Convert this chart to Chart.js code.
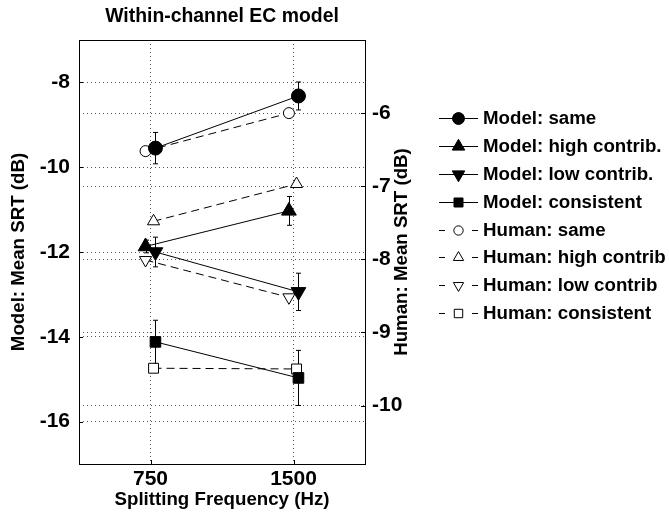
<!DOCTYPE html>
<html lang="en">
<head>
<meta charset="UTF-8">
<title>Within-channel EC model</title>
<script src="https://cdn.jsdelivr.net/npm/chart.js"></script>
<style>
  html, body { margin: 0; padding: 0; background: #fff; }
  #wrap { width: 669px; height: 519px; }
</style>
</head>
<body>
<div id="wrap"><canvas id="srtChart"></canvas></div>
<script>
// splitting frequencies on the x axis
const freqs = [750, 1500];

// plotted x positions (points are nudged sideways a little so they don't overlap)
const xModelSame = [776, 1526];
const xModelHigh = [724, 1476];
const xModelLow = [776, 1526];
const xModelConsistent = [776, 1526];
const xHumanSame = [724, 1476];
const xHumanHigh = [766, 1516];
const xHumanLow = [724, 1476];
const xHumanConsistent = [766, 1516];

// model SRTs (left axis) with error bar half-lengths
const modelSame = [-9.55, -8.32];
const modelSameErr = [0.37, 0.33];
const modelHigh = [-11.87, -11.03];
const modelHighErr = [0.15, 0.34];
const modelLow = [-12.0, -12.94];
const modelLowErr = [0.35, 0.44];
const modelConsistent = [-14.12, -14.97];
const modelConsistentErr = [0.51, 0.65];

// human SRTs (right axis)
const humanSame = [-6.52, -6.0];
const humanHigh = [-7.48, -6.97];
const humanLow = [-8.01, -8.52];
const humanConsistent = [-9.49, -9.5];

const leftTicks = [-8, -10, -12, -14, -16];
const rightTicks = [-6, -7, -8, -9, -10];

const FONT = 'Liberation Sans, Arial, Helvetica, sans-serif';
const tickFont = {family: FONT, size: 21, weight: 'bold'};
const labelFont = {family: FONT, size: 18.7, weight: 'bold'};

function pts(xs, ys) {
    return ys.map((y, i) => ({x: xs[i], y: y}));
}

function modelSet(label, xs, ys, errs, style, radius, rot) {
    return {
        label: label, data: pts(xs, ys), errors: errs, yAxisID: 'yModel',
        showLine: true, borderColor: '#000', borderWidth: 1,
        pointStyle: style, pointRadius: radius, pointRotation: rot || 0,
        pointBackgroundColor: '#000', pointBorderColor: '#000', pointBorderWidth: 1
    };
}

function humanSet(label, xs, ys, style, radius, rot) {
    return {
        label: label, data: pts(xs, ys), yAxisID: 'yHuman',
        showLine: true, borderColor: '#000', borderWidth: 1, borderDash: [8, 5],
        pointStyle: style, pointRadius: radius, pointRotation: rot || 0,
        pointBackgroundColor: '#fff', pointBorderColor: '#000', pointBorderWidth: 1
    };
}

// error bars, inward ticks, frame, right-hand title and legend
const extras = {
    id: 'extras',
    beforeDatasetsDraw(chart) {
        const ctx = chart.ctx;
        const xs = chart.scales.x, ys = chart.scales.yModel;
        ctx.save();
        ctx.strokeStyle = '#000';
        ctx.lineWidth = 1;
        chart.data.datasets.forEach(ds => {
            if (!ds.errors) return;
            ds.data.forEach((p, i) => {
                const px = Math.round(xs.getPixelForValue(p.x)) + 0.5;
                const top = ys.getPixelForValue(p.y + ds.errors[i]);
                const bot = ys.getPixelForValue(p.y - ds.errors[i]);
                ctx.beginPath();
                ctx.moveTo(px, top); ctx.lineTo(px, bot);
                ctx.moveTo(px - 2.5, top); ctx.lineTo(px + 2.5, top);
                ctx.moveTo(px - 2.5, bot); ctx.lineTo(px + 2.5, bot);
                ctx.stroke();
            });
        });
        ctx.restore();
    },
    afterDraw(chart) {
        const ctx = chart.ctx;
        const a = chart.chartArea;
        ctx.save();
        ctx.strokeStyle = '#000';
        ctx.lineWidth = 1;
        ctx.strokeRect(Math.round(a.left) + 0.5, Math.round(a.top) + 0.5,
            Math.round(a.right - a.left), Math.round(a.bottom - a.top));

        // small inward tick marks like the original figure
        ctx.beginPath();
        leftTicks.forEach(v => {
            const y = Math.round(chart.scales.yModel.getPixelForValue(v)) + 0.5;
            ctx.moveTo(a.left, y); ctx.lineTo(a.left + 4, y);
        });
        rightTicks.forEach(v => {
            const y = Math.round(chart.scales.yHuman.getPixelForValue(v)) + 0.5;
            ctx.moveTo(a.right, y); ctx.lineTo(a.right - 4, y);
        });
        freqs.forEach(v => {
            const x = Math.round(chart.scales.x.getPixelForValue(v)) + 0.5;
            ctx.moveTo(x, a.bottom); ctx.lineTo(x, a.bottom - 4);
        });
        ctx.stroke();

        // right axis title, reading bottom to top
        ctx.fillStyle = '#000';
        ctx.font = 'bold 18.7px ' + FONT;
        ctx.textAlign = 'center';
        ctx.textBaseline = 'middle';
        ctx.save();
        ctx.translate(402, (a.top + a.bottom) / 2);
        ctx.rotate(-Math.PI / 2);
        ctx.fillText('Human: Mean SRT (dB)', 0, 0);
        ctx.restore();

        // chart title
        ctx.font = 'bold 19.4px ' + FONT;
        ctx.fillText('Within-channel EC model', (a.left + a.right) / 2, 17);

        // legend
        const x0 = 439, x1 = 478, xm = 458.5, tx = 483;
        const rowY = [118, 146, 174, 202, 230, 257, 285, 313];
        const order = ['Model: same', 'Model: high contrib.', 'Model: low contrib.', 'Model: consistent',
            'Human: same', 'Human: high contrib', 'Human: low contrib', 'Human: consistent'];
        ctx.textAlign = 'left';
        ctx.font = 'bold 18.7px ' + FONT;
        order.forEach((name, i) => {
            const ds = chart.data.datasets.find(d => d.label === name);
            const y = rowY[i] + 0.5;
            ctx.beginPath();
            if (ds.borderDash) {
                ctx.moveTo(x0, y); ctx.lineTo(x0 + 6, y);
                ctx.moveTo(x1 - 6, y); ctx.lineTo(x1, y);
            } else {
                ctx.moveTo(x0, y); ctx.lineTo(x1, y);
            }
            ctx.stroke();
            const r = ds.pointRadius * 0.85;
            ctx.beginPath();
            if (ds.pointStyle === 'circle') {
                ctx.arc(xm, y, r, 0, Math.PI * 2);
            } else if (ds.pointStyle === 'rect') {
                const h = r * Math.SQRT1_2;
                ctx.rect(xm - h, y - h, 2 * h, 2 * h);
            } else {
                const s = ds.pointRotation ? -1 : 1;
                ctx.moveTo(xm, y - s * r);
                ctx.lineTo(xm + r * 0.866, y + s * r * 0.5);
                ctx.lineTo(xm - r * 0.866, y + s * r * 0.5);
                ctx.closePath();
            }
            ctx.fillStyle = ds.pointBackgroundColor;
            ctx.fill();
            ctx.stroke();
            ctx.fillStyle = '#000';
            ctx.fillText(name, tx, rowY[i] + 1);
        });
        ctx.restore();
    }
};

const gridStyle = {color: '#555', drawTicks: false, lineWidth: 1};
const plainLabel = v => String(v);

new Chart(document.getElementById('srtChart'), {
    type: 'scatter',
    data: {
        datasets: [
            modelSet('Model: same', xModelSame, modelSame, modelSameErr, 'circle', 7),
            modelSet('Model: high contrib.', xModelHigh, modelHigh, modelHighErr, 'triangle', 8.5),
            modelSet('Model: low contrib.', xModelLow, modelLow, modelLowErr, 'triangle', 8.5, 180),
            modelSet('Model: consistent', xModelConsistent, modelConsistent, modelConsistentErr, 'rect', 7.5),
            humanSet('Human: same', xHumanSame, humanSame, 'circle', 5.5),
            humanSet('Human: high contrib', xHumanHigh, humanHigh, 'triangle', 7),
            humanSet('Human: low contrib', xHumanLow, humanLow, 'triangle', 7, 180),
            humanSet('Human: consistent', xHumanConsistent, humanConsistent, 'rect', 7)
        ]
    },
    plugins: [extras],
    options: {
        responsive: true,
        maintainAspectRatio: false,
        animation: false,
        layout: {padding: {top: 40, right: 259, left: 0, bottom: 0}},
        plugins: {
            legend: {display: false},
            tooltip: {enabled: false}
        },
        scales: {
            x: {
                type: 'linear', min: 375, max: 1875,
                afterBuildTicks: s => { s.ticks = freqs.map(v => ({value: v})); },
                afterFit: s => { s.height = 55; },
                grid: gridStyle,
                border: {display: false, dash: [1, 3]},
                ticks: {font: tickFont, color: '#000', padding: 3, callback: plainLabel},
                title: {display: true, text: 'Splitting Frequency (Hz)', font: labelFont, color: '#000', padding: {top: 0, bottom: 8}}
            },
            yModel: {
                position: 'left', min: -17, max: -7,
                afterBuildTicks: s => { s.ticks = leftTicks.map(v => ({value: v})); },
                afterFit: s => { s.width = 79; },
                grid: gridStyle,
                border: {display: false, dash: [1, 3]},
                ticks: {font: tickFont, color: '#000', padding: 9, callback: plainLabel},
                title: {display: true, text: 'Model: Mean SRT (dB)', font: labelFont, color: '#000', padding: {top: 8, bottom: 0}}
            },
            yHuman: {
                position: 'right', min: -10.8, max: -5,
                afterBuildTicks: s => { s.ticks = rightTicks.map(v => ({value: v})); },
                afterFit: s => { s.width = 45; },
                grid: gridStyle,
                border: {display: false, dash: [1, 3]},
                ticks: {font: tickFont, color: '#000', padding: 7, callback: plainLabel}
            }
        }
    }
});
</script>
</body>
</html>
